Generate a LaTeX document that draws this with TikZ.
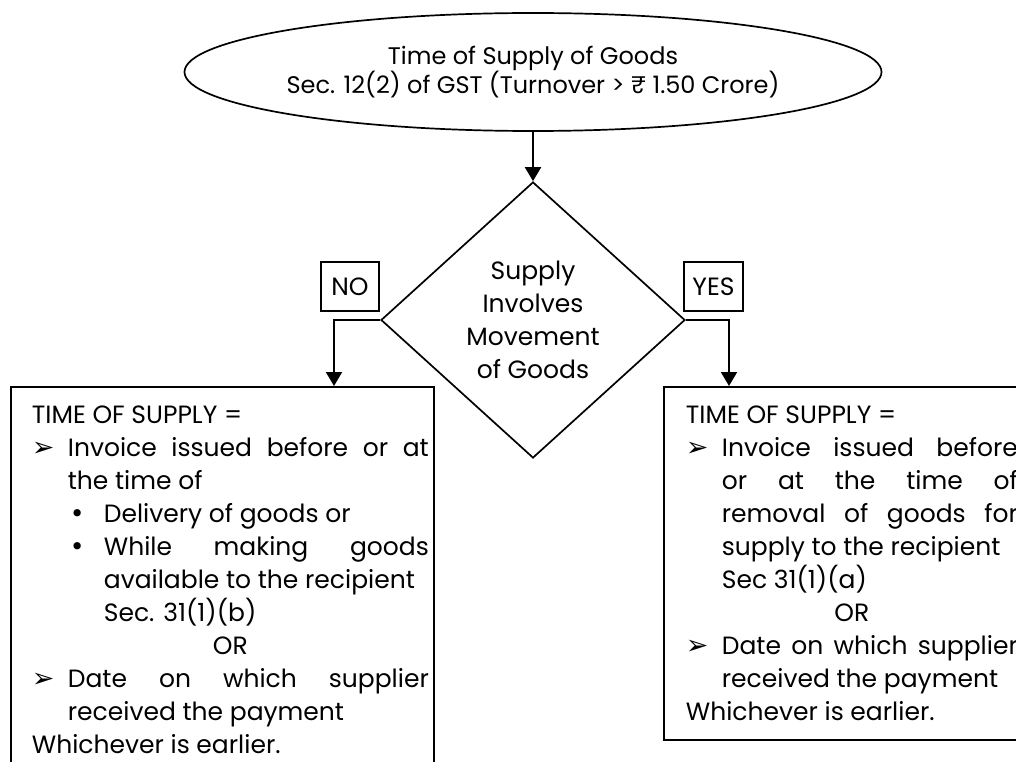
\documentclass[tikz,border=0pt]{standalone}
\usepackage{fontspec}
\setmainfont{Poppins}
\newfontfamily\dingfont{DejaVu Sans}
\usetikzlibrary{shapes.geometric,arrows.meta}
% list marks used inside the two result boxes
\newcommand{\pointer}{\makebox[36pt][l]{\dingfont\fontsize{27}{33}\selectfont ➢}}
\newcommand{\dotitem}{\hspace*{36pt}\makebox[36pt][l]{\hspace*{2pt}\dingfont •}}
\newcommand{\centreline}[1]{{\parfillskip=0pt\hspace*{\fill}#1\hspace*{\fill}\par}}
\tikzset{
  flow/.style={line width=2pt,-{Triangle[width=16pt,length=14pt]}},
  infobox/.style={draw,line width=1.7pt,anchor=north west,inner xsep=5pt,inner ysep=19pt,align=justify},
  tag/.style={draw,line width=1.7pt,minimum width=58pt,minimum height=49pt,inner sep=0pt}
}
\begin{document}
\begin{tikzpicture}[x=1pt,y=-1pt,font=\fontsize{25}{33}\selectfont]
\useasboundingbox (0,0) rectangle (1016,762);
\clip (0,0) rectangle (1016,762);
% start and decision
\node[draw,ellipse,line width=1.7pt,minimum width=682pt,minimum height=118pt,inner sep=0pt,
  align=center,font=\fontsize{24}{29}\selectfont] (start) at (533,72)
  {Time of Supply of Goods\\Sec. 12(2) of GST (Turnover > ₹ 1.50 Crore)};
\node[draw,diamond,line width=1.7pt,minimum width=304pt,minimum height=276pt,inner sep=0pt,
  align=center] (decide) at (533,320) {Supply\\Involves\\Movement\\of Goods};
\node[tag] (no) at (350,286.5) {NO};
\node[tag,minimum width=59pt] (yes) at (713.5,286.5) {YES};
% outcomes
\node[infobox,text width=413pt] (lbox) at (10,386) {\parindent=0pt\leftskip=16pt
TIME OF SUPPLY =\par
\hangindent=36pt\pointer Invoice issued before or at\linebreak the time of\par
\hangindent=72pt\dotitem Delivery of goods or\par
\hangindent=72pt\dotitem While making goods\linebreak available to the recipient\\Sec. 31(1)(b)\par
\centreline{OR}
\hangindent=36pt\pointer Date on which supplier\linebreak received the payment\par
Whichever is earlier.\par};
\node[infobox,text width=349pt] (rbox) at (663,386) {\parindent=0pt\leftskip=17pt
TIME OF SUPPLY =\par
\hangindent=36pt\pointer Invoice issued before\linebreak or at the time of\linebreak removal of goods for\linebreak supply to the recipient\\Sec 31(1)(a)\par
\centreline{OR}
\hangindent=36pt\pointer Date on which supplier\linebreak received the payment\par
Whichever is earlier.\par};
\coordinate (ltop) at (334,386);
\coordinate (rtop) at (729,386);
% connectors
\draw[flow] (start.south) -- (decide.north);
\draw[flow] (decide.west) -| (ltop);
\draw[flow] (decide.east) -| (rtop);
\end{tikzpicture}
\end{document}
